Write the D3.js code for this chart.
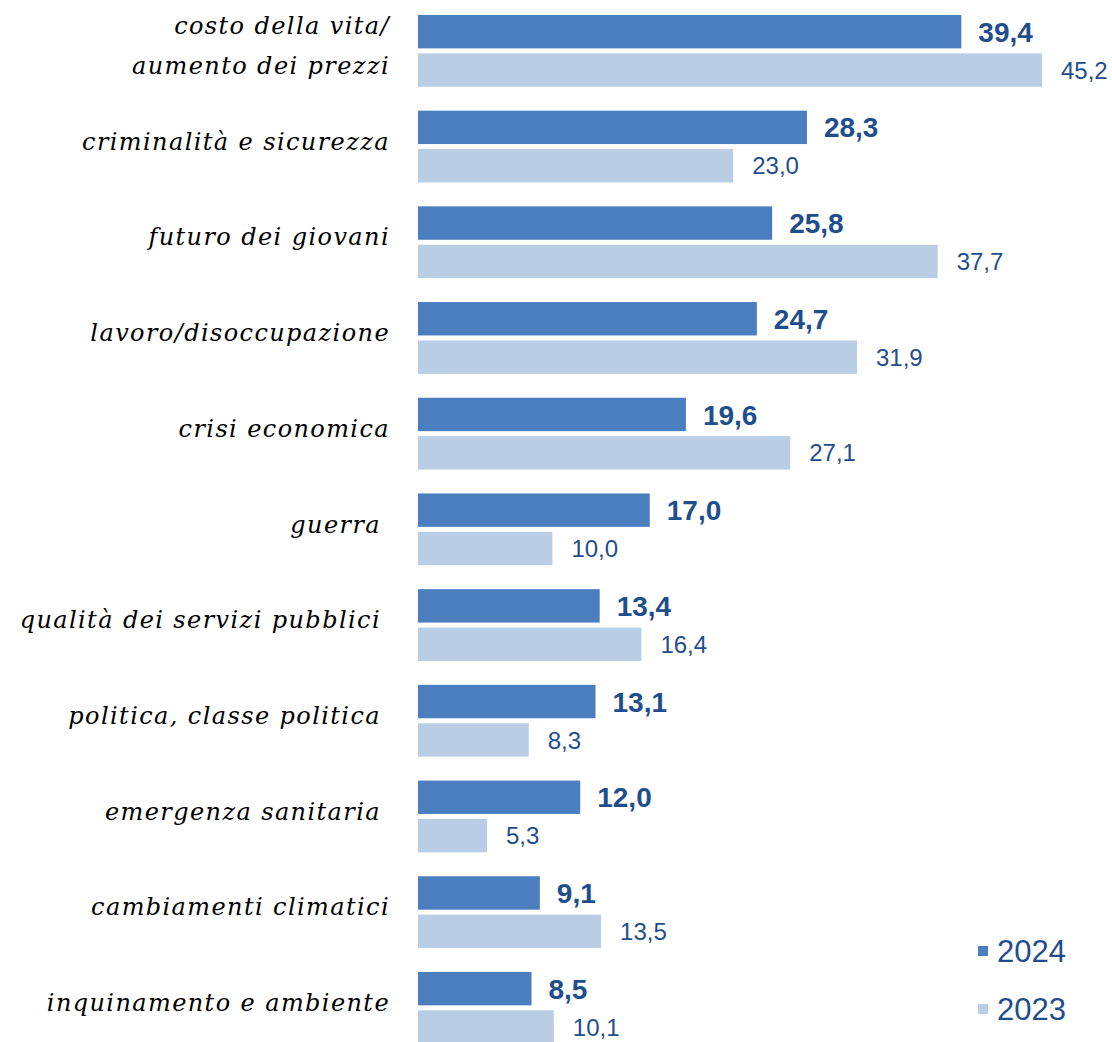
<!DOCTYPE html>
<html lang="it">
<head>
<meta charset="utf-8">
<title>Preoccupazioni 2024 vs 2023</title>
<style>
  body { margin: 0; background: #fff; }
  .cat { font-family: "DejaVu Serif", serif; font-style: italic; font-size: 24px; fill: #000; text-anchor: end; white-space: pre; letter-spacing: 1.4px; }
  .val { font-family: "Liberation Sans", Arial, sans-serif; fill: #1F4E8C; }
  .val.y2024 { font-size: 28px; font-weight: bold; }
  .val.y2023 { font-size: 24px; }
  .legText { font-family: "Liberation Sans", Arial, sans-serif; font-size: 31px; fill: #1F4E8C; }
</style>
</head>
<body>
<div id="chart"></div>
<script src="https://cdn.jsdelivr.net/npm/d3@7"></script>
<script>

var categories = [
  ["costo della vita/", "aumento dei prezzi"],
  ["criminalità e sicurezza"],
  ["futuro dei giovani"],
  ["lavoro/disoccupazione"],
  ["crisi economica"],
  ["guerra "],
  ["qualità dei servizi pubblici "],
  ["politica, classe politica "],
  ["emergenza sanitaria "],
  ["cambiamenti climatici"],
  ["inquinamento e ambiente"]
];
var series = ["2024", "2023"];
var values2024 = [39.4, 28.3, 25.8, 24.7, 19.6, 17.0, 13.4, 13.1, 12.0, 9.1, 8.5];
var values2023 = [45.2, 23.0, 37.7, 31.9, 27.1, 10.0, 16.4, 8.3, 5.3, 13.5, 10.1];

var width = 1112, height = 1042;
var colors = {"2024": "#4A7EBF", "2023": "#B9CDE4"};

var svg = d3.select("#chart").append("svg")
    .attr("width", width)
    .attr("height", height);

// value axis; the plot's left edge sits a little right of zero
var x = d3.scaleLinear()
    .domain([0, 45.2])
    .range([413.3, 1042]);
var plotLeft = 418;

var idx = d3.range(categories.length);

var y = d3.scaleBand()
    .domain(idx)
    .range([3, 1055.7])
    .paddingInner(0.25)
    .paddingOuter(0.125);

var ySub = d3.scaleBand()
    .domain(series)
    .range([0, y.bandwidth()])
    .paddingInner(0.13);

var rows = idx.map(function(i) {
  return {i: i, label: categories[i], vals: {"2024": values2024[i], "2023": values2023[i]}};
});

var groups = svg.selectAll("g.row")
    .data(rows)
    .enter()
    .append("g")
    .attr("class", "row")
    .attr("transform", function(d) { return "translate(0," + y(d.i) + ")"; });

groups.selectAll("rect")
    .data(function(d) { return series.map(function(s) { return {s: s, v: d.vals[s]}; }); })
    .enter()
    .append("rect")
    .attr("x", plotLeft)
    .attr("y", function(d) { return ySub(d.s); })
    .attr("width", function(d) { return x(d.v) - plotLeft; })
    .attr("height", ySub.bandwidth())
    .style("fill", function(d) { return colors[d.s]; });

groups.selectAll("text.val")
    .data(function(d) { return series.map(function(s) { return {s: s, v: d.vals[s]}; }); })
    .enter()
    .append("text")
    .attr("class", function(d) { return "val y" + d.s; })
    .attr("x", function(d) { return x(d.v) + (d.s === "2024" ? 17 : 19); })
    .attr("y", function(d) { return ySub(d.s) + ySub.bandwidth() / 2; })
    .attr("dy", "0.36em")
    .text(function(d) { return d.v.toFixed(1).replace(".", ","); });

// category labels
groups.each(function(d) {
  var g = d3.select(this);
  var n = d.label.length;
  var lineH = 40;
  var mid = y.bandwidth() / 2 - 4;
  d.label.forEach(function(line, k) {
    g.append("text")
      .attr("class", "cat")
      .attr("x", 390)
      .attr("y", mid + (k - (n - 1) / 2) * lineH)
      .attr("dy", "0.3em")
      .text(line);
  });
});

// legend
var legend = svg.append("g");
series.forEach(function(s, i) {
  var ly = 951 + i * 58;
  legend.append("rect")
    .attr("x", 978)
    .attr("y", ly - 5)
    .attr("width", 10)
    .attr("height", 10)
    .style("fill", colors[s]);
  legend.append("text")
    .attr("class", "legText")
    .attr("x", 997)
    .attr("y", ly)
    .attr("dy", "0.36em")
    .text(s);
});

</script>
</body>
</html>
